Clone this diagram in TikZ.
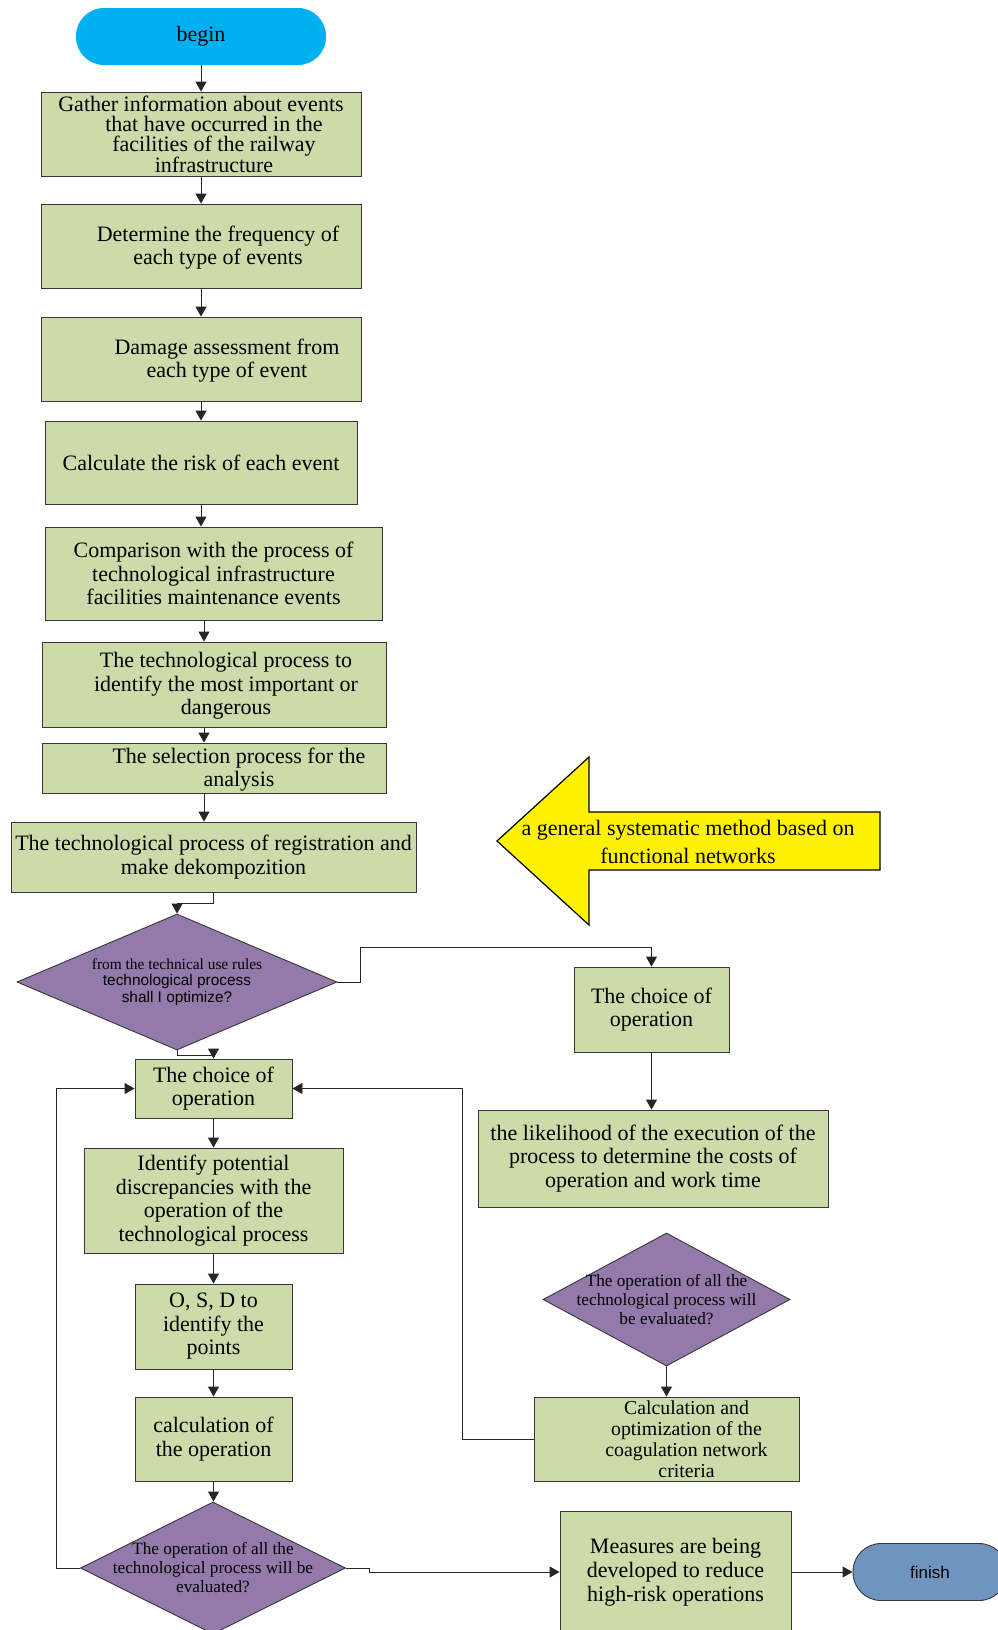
\documentclass[tikz,border=0pt]{standalone}
\usepackage{fontspec}
\setmainfont{Liberation Serif}
\newfontfamily\arialf{Liberation Sans}
\usetikzlibrary{shapes.geometric,arrows.meta,calc}
\definecolor{boxgreen}{RGB}{204,219,169}
\definecolor{decpurple}{RGB}{147,122,170}
\definecolor{begincyan}{RGB}{0,176,240}
\definecolor{finishblue}{RGB}{112,148,192}
\definecolor{linegray}{RGB}{55,55,55}
\newcommand{\fsz}[2]{\fontsize{#1}{#2}\selectfont}
\begin{document}
\begin{tikzpicture}[x=1pt,y=-1pt,
  box/.style={rectangle, draw=linegray, fill=boxgreen, line width=0.9pt, inner sep=0pt, align=center, font=\fsz{22}{23.5}},
  txt/.style={align=center, inner sep=0pt, font=\fsz{22}{23.5}},
  dec/.style={diamond, draw=linegray, fill=decpurple, line width=0.9pt, inner sep=0pt},
  term/.style={rectangle, rounded corners=28pt, inner sep=0pt, align=center},
  arr/.style={-{Triangle[length=10pt,width=11pt]}, line width=0.9pt, draw=black!85},
]
\useasboundingbox (0,0) rectangle (998,1630);
\clip (0,0) rectangle (998,1630);
\fill[white] (0,0) rectangle (998,1630);

% left column
\node[term, fill=begincyan, minimum width=250, minimum height=57, font=\fsz{22}{23.5}] (begin) at (201,36.5) {begin};
\node[box, minimum width=320, minimum height=84, font=\fsz{22}{20}] (gather) at (201,134)
  {Gather information about events\\\hspace*{26pt}that have occurred in the\\\hspace*{26pt}facilities of the railway\\\hspace*{26pt}infrastructure};
\node[box, minimum width=320, minimum height=84, label={[txt,xshift=17pt,yshift=-1.5pt]center:{Determine the frequency of\\each type of events}}] (determine) at (201,246) {};
\node[box, minimum width=320, minimum height=84, label={[txt,xshift=26pt,yshift=-1.5pt]center:{Damage assessment from\\each type of event}}] (damage) at (201,359) {};
\node[box, minimum width=312, minimum height=83] (risk) at (201,462.5) {Calculate the risk of each event};
\node[box, minimum width=337, minimum height=93] (comparison) at (213.5,573.5)
  {Comparison with the process of\\technological infrastructure\\facilities maintenance events};
\node[box, minimum width=344, minimum height=85, label={[txt,xshift=12pt,yshift=-1.5pt]center:{The technological process to\\identify the most important or\\dangerous}}] (identmost) at (214,684.5) {};
\node[box, minimum width=344, minimum height=50, label={[txt,xshift=25pt,yshift=-1.5pt]center:{The selection process for the\\analysis}}] (selection) at (214,768) {};
\node[box, minimum width=405, minimum height=70] (registration) at (213.5,857)
  {The technological process of registration and\\make dekompozition};
\node[dec, minimum width=320, minimum height=136,
  label={[txt,font=\fsz{15.4}{16.5}]center:{from the technical use rules\\\arialf technological process\\\arialf shall I optimize?}}] (d1) at (177,982) {};

\node[box, minimum width=157, minimum height=59] (choiceL) at (213.5,1088.5) {The choice of\\operation};
\node[box, minimum width=259, minimum height=105] (identify) at (213.5,1200.5)
  {Identify potential\\discrepancies with the\\operation of the\\technological process};
\node[box, minimum width=157, minimum height=85] (osd) at (213.5,1326.5) {O, S, D to\\identify the\\points};
\node[box, minimum width=157, minimum height=84] (calc) at (213.5,1439) {calculation of\\the operation};
\node[dec, minimum width=265, minimum height=132,
  label={[txt,font=\fsz{17.2}{19}]center:{The operation of all the\\technological process will be\\evaluated?}}] (d3) at (213,1568) {};

% right column
\filldraw[fill=yellow, draw=black, line width=1.2pt]
  (497,841) -- (589,757) -- (589,812) -- (880,812) -- (880,870) -- (589,870) -- (589,925) -- cycle;
\node[txt, font=\fsz{22}{28}] (method) at (688,842) {a general systematic method based on\\functional networks};

\node[box, minimum width=155, minimum height=85] (choiceR) at (651.5,1009.5) {The choice of\\operation};
\node[box, minimum width=350, minimum height=97] (likelihood) at (653,1158.5)
  {the likelihood of the execution of the\\process to determine the costs of\\operation and work time};
\node[dec, minimum width=247, minimum height=133,
  label={[txt,font=\fsz{17.2}{19}]center:{The operation of all the\\technological process will\\be evaluated?}}] (d2) at (666.5,1299.5) {};
\node[box, minimum width=265, minimum height=84,
  label={[txt,xshift=20pt,font=\fsz{19.8}{21}]center:{Calculation and\\optimization of the\\coagulation network\\criteria}}] (calcopt) at (666.5,1439) {};
\node[box, minimum width=231, minimum height=122, font=\fsz{22}{24}] (measures) at (675.5,1572)
  {Measures are being\\developed to reduce\\high-risk operations};
\node[term, draw=linegray, line width=0.9pt, fill=finishblue, minimum width=154, minimum height=57, font=\arialf\fsz{17}{19}] (finish) at (930,1572) {finish};

% connectors
\draw[arr] (begin.south) -- (gather.north);
\draw[arr] (gather.south) -- (determine.north);
\draw[arr] (determine.south) -- (damage.north);
\draw[arr] (damage.south) -- (risk.north);
\draw[arr] (risk.south) -- (risk.south |- comparison.north);
\draw[arr] ([xshift=-9.5pt]comparison.south) -- ([xshift=-9.5pt]comparison.south |- identmost.north);
\draw[arr] ([xshift=-10pt]identmost.south) -- ([xshift=-10pt]identmost.south |- selection.north);
\draw[arr] ([xshift=-10pt]selection.south) -- ([xshift=-10pt]selection.south |- registration.north);
\draw[arr] (registration.south) -- ++(0,11) -| (d1.north);
\draw[arr] (d1.east) -- ++(23,0) -- ++(0,-35) -| (choiceR.north);
\draw[arr] (d1.south) -- ++(0,5) -| (choiceL.north);
\draw[arr] (choiceR.south) -- (choiceR.south |- likelihood.north);
\draw[arr] (d2.south) -- (calcopt.north);
\draw[arr] (calcopt.west) -- ++(-71,0) |- (choiceL.east);
\draw[arr] (choiceL.south) -- (identify.north);
\draw[arr] (identify.south) -- (osd.north);
\draw[arr] (osd.south) -- (calc.north);
\draw[arr] (calc.south) -- (calc.south |- d3.north);
\draw[arr] (d3.west) -- ++(-24,0) |- (choiceL.west);
\draw[arr] (d3.east) -- ++(23,0) |- (measures.west);
\draw[arr] (measures.east) -- (finish.west);
\end{tikzpicture}
\end{document}
